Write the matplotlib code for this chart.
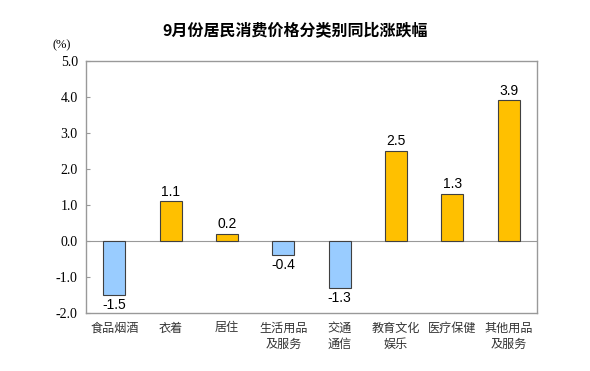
import numpy as np
import matplotlib.pyplot as plt

plt.rcParams['font.family'] = ['Noto Sans CJK SC', 'DejaVu Sans']

# 数据
categories = ['食品烟酒', '衣着', '居住', '生活用品\n及服务', '交通\n通信',
              '教育文化\n娱乐', '医疗保健', '其他用品\n及服务']
values = [-1.5, 1.1, 0.2, -0.4, -1.3, 2.5, 1.3, 3.9]
y_ticks = [-2.0, -1.0, 0.0, 1.0, 2.0, 3.0, 4.0, 5.0]

fig = plt.figure(figsize=(5.9, 3.71), dpi=100)
ax = fig.add_axes([0.146, 0.156, 0.764, 0.680])

x = np.arange(len(values))
colors = ['#99CCFF' if v < 0 else '#FFC000' for v in values]
ax.bar(x, values, width=0.39, color=colors, edgecolor='#404040', linewidth=0.8, zorder=3)

for xi, v in zip(x, values):
    if v >= 0:
        ax.text(xi, v + 0.08, f'{v:.1f}', ha='center', va='bottom',
                fontsize=10, family='Liberation Sans')
    else:
        ax.text(xi, v - 0.08, f'{v:.1f}', ha='center', va='top',
                fontsize=10, family='Liberation Sans')

ax.axhline(0, color='#999999', linewidth=0.8, zorder=2)
ax.set_xlim(-0.5, len(values) - 0.5)
ax.set_ylim(-2.0, 5.0)
ax.set_yticks(y_ticks)
ax.set_yticklabels([f'{t:.1f}' for t in y_ticks], family='Liberation Serif', fontsize=10)
ax.tick_params(axis='y', direction='in', length=3, color='#999999', pad=6)
ax.set_xticks(x)
ax.set_xticklabels(categories, fontsize=8.7, color='#333333', linespacing=1.3)
ax.tick_params(axis='x', length=0, pad=6)
for s in ax.spines.values():
    s.set_color('#999999')
    s.set_linewidth(1.0)

fig.text(0.5, 0.918, '9月份居民消费价格分类别同比涨跌幅', ha='center', va='center',
         fontsize=11.5, fontweight='bold')
fig.text(0.105, 0.878, '(%)', ha='center', va='center', fontsize=9, family='Liberation Serif')

fig.savefig('out.png', dpi=100)
